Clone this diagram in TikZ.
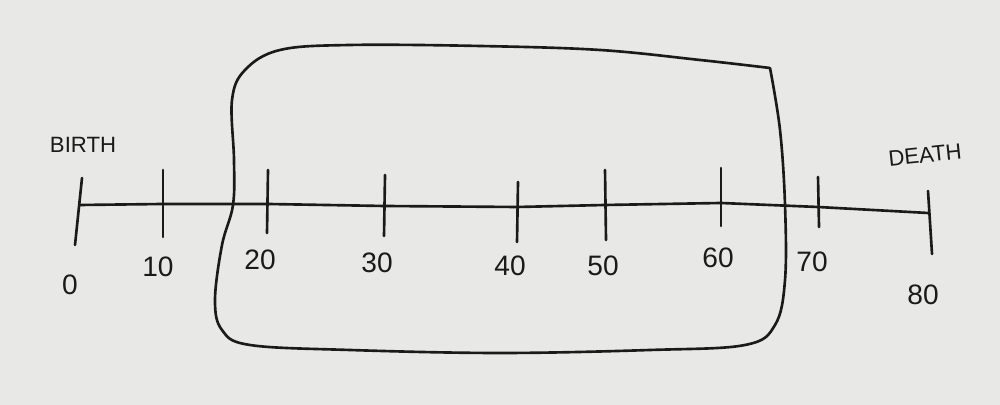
\documentclass[tikz,border=0pt]{standalone}
\usepackage{fontspec}
\setsansfont{Liberation Sans}
\usetikzlibrary{positioning,calc}
\definecolor{paper}{HTML}{E8E9E6}
\definecolor{ink}{HTML}{1A1A1A}

\begin{document}
\begin{tikzpicture}[
        pen/.style={draw=ink, line width=0.75pt, line cap=round, line join=round},
        numlabel/.style={font=\sffamily\fontsize{8}{9}\selectfont, text=ink, inner sep=0pt},
        wordlabel/.style={font=\sffamily\fontsize{6.3}{7}\selectfont, text=ink, inner sep=0pt}
    ]
        \fill[paper] (0,0) rectangle (10,4.05);
        \useasboundingbox (0,0) rectangle (10,4.05);
        % points on the life line
        \coordinate (t0) at (0.80,2.00);
        \coordinate (t10) at (1.63,2.01);
        \coordinate (t20) at (2.68,2.01);
        \coordinate (t30) at (3.84,1.99);
        \coordinate (t40) at (5.17,1.98);
        \coordinate (t50) at (6.05,2.00);
        \coordinate (t60) at (7.21,2.02);
        \coordinate (t70) at (8.18,1.98);
        \coordinate (t80) at (9.28,1.92);
        \draw[pen] (t0) -- (t10) -- (t20) -- (t30) -- (t40) -- (t50) -- (t60) -- (t70) -- (t80);
        % ticks
        \draw[pen] ($(t0)+(0.02,0.27)$) -- ($(t0)+(-0.05,-0.40)$);
        \draw[pen] ($(t10)+(0,0.34)$) -- ($(t10)+(0,-0.33)$);
        \draw[pen] ($(t20)+(0,0.34)$) -- ($(t20)+(-0.01,-0.29)$);
        \draw[pen] ($(t30)+(0.01,0.31)$) -- ($(t30)+(0,-0.30)$);
        \draw[pen] ($(t40)+(0.01,0.25)$) -- ($(t40)+(0,-0.35)$);
        \draw[pen] ($(t50)+(0,0.35)$) -- ($(t50)+(0.01,-0.35)$);
        \draw[pen] ($(t60)+(0,0.35)$) -- ($(t60)+(0,-0.23)$);
        \draw[pen] ($(t70)+(0,0.30)$) -- ($(t70)+(0.01,-0.20)$);
        \draw[pen] ($(t80)+(0,0.22)$) -- ($(t80)+(0.04,-0.41)$);
        % ages
        \node[numlabel] (a0) at (0.70,1.20) {0};
        \node[numlabel] (a10) at (1.58,1.38) {10};
        \node[numlabel] (a20) at (2.60,1.45) {20};
        \node[numlabel] (a30) at (3.77,1.42) {30};
        \node[numlabel] (a40) at (5.10,1.39) {40};
        \node[numlabel] (a50) at (6.03,1.39) {50};
        \node[numlabel] (a60) at (7.18,1.47) {60};
        \node[numlabel] (a70) at (8.12,1.43) {70};
        \node[numlabel] (a80) at (9.23,1.10) {80};
        \node[wordlabel] (birth) at (0.83,2.60) {BIRTH};
        \node[wordlabel, rotate=6] (death) at (9.25,2.50) {DEATH};
        % the box round the middle years
        \draw[pen] plot[smooth, tension=0.6] coordinates {
            (7.70,3.37) (7.00,3.45) (6.00,3.55) (4.80,3.59) (3.50,3.60)
            (2.80,3.55) (2.45,3.35) (2.32,3.05) (2.34,2.45) (2.33,2.00)
            (2.22,1.60) (2.15,1.05) (2.22,0.75) (2.50,0.60) (3.50,0.55)
            (5.00,0.52) (6.50,0.55) (7.45,0.60) (7.75,0.80) (7.85,1.25)
            (7.85,2.00) (7.80,2.75) (7.70,3.37)};
\end{tikzpicture}
\end{document}
